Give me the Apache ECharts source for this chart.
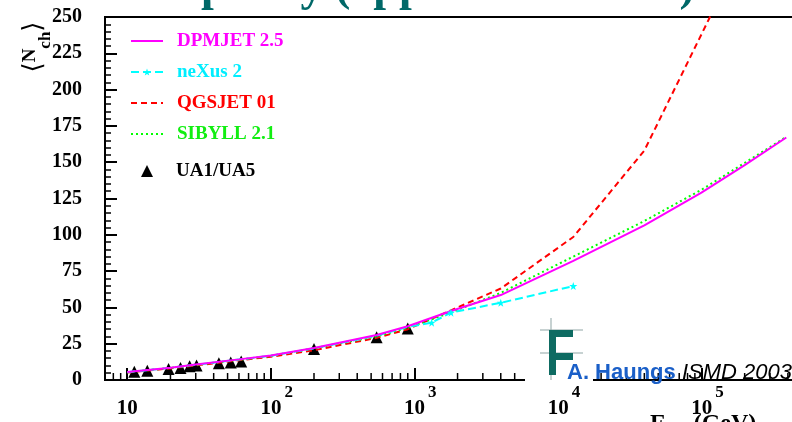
<!DOCTYPE html>
<html><head><meta charset="utf-8">
<script src="https://cdn.jsdelivr.net/npm/echarts@6/dist/echarts.min.js"></script>
<style>html,body{margin:0;padding:0;background:#fff}#c{width:792px;height:422px}</style>
</head><body><div id="c"></div>
<script>
// ---- data (E_cm in GeV, <N_ch>) ----
const uaE   = [11.2, 13.8, 19.4, 23.5, 27.2, 30.4, 43.5, 52.6, 62.2, 200, 546, 900];
const uaN   = [5.7, 6.4, 7.6, 8.3, 9.4, 10.0, 11.6, 12.0, 12.8, 21.3, 29.4, 35.4];

const dpmE  = [10, 20, 30, 60, 100, 200, 546, 900, 1800, 4000, 12800, 40000, 100000, 200000, 390000];
const dpmN  = [5.5, 8.5, 10.6, 14.2, 16.9, 22.0, 31.0, 37.0, 47.5, 58.5, 82.0, 106.5, 129.0, 148.0, 167.0];

const sibE  = [10, 20, 30, 60, 100, 200, 546, 900, 1800, 4000, 12800, 40000, 100000, 200000, 390000];
const sibN  = [5.3, 8.3, 10.4, 14.0, 16.6, 21.8, 30.0, 36.0, 46.5, 60.0, 85.0, 109.5, 131.0, 149.5, 167.5];

const qgsE  = [10, 20, 30, 60, 100, 200, 546, 900, 1800, 4000, 12800, 40000, 120000];
const qgsN  = [5.2, 8.0, 10.0, 13.6, 16.0, 20.5, 29.0, 35.0, 48.0, 63.0, 98.5, 158.0, 254.0];

const nexE  = [10, 20, 30, 60, 100, 200, 546, 900, 1320, 1800, 4000, 12800];
const nexN  = [5.4, 8.4, 10.5, 14.1, 16.7, 21.8, 30.5, 36.5, 39.5, 46.4, 53.2, 64.7];

const xMinorTicks = [8, 9, 20, 30, 40, 50, 60, 70, 80, 90, 200, 300, 400, 500, 600, 700, 800, 900,
  2000, 3000, 4000, 5000, 6000, 7000, 8000, 9000, 20000, 30000, 40000, 50000, 60000, 70000, 80000, 90000,
  200000, 300000, 400000, 500000, 600000, 700000, 800000, 900000];

const seriesNames = ['DPMJET 2.5', 'neXus 2', 'QGSJET 01', 'SIBYLL 2.1', 'UA1/UA5'];

// ---- helpers ----
const zip = (a, b) => a.map((v, i) => [v, b[i]]);
const STAR = 'path://M0,-10L2.35,-3.24L9.51,-3.09L3.8,1.24L5.88,8.09L0,4L-5.88,8.09L-3.8,1.24L-9.51,-3.09L-2.35,-3.24Z';
const SERIF = 'Liberation Serif';

const chart = echarts.init(document.getElementById('c'), null, {renderer: 'canvas'});

const option = {
  backgroundColor: '#fff',
  animation: false,
  grid: {left: 105, top: 17, bottom: 42, right: -53, show: true, borderColor: '#000', borderWidth: 2,
    backgroundColor: 'transparent', containLabel: false, outerBoundsMode: 'none'},
  xAxis: {
    type: 'log', logBase: 10, min: 7, max: 1e6,
    axisLine: {lineStyle: {color: '#000', width: 2}},
    axisTick: {inside: true, length: 12, lineStyle: {color: '#000', width: 2}},
    splitLine: {show: false},
    axisLabel: {
      margin: 17,
      formatter: function (v) {
        const e = Math.round(Math.log10(v));
        if (Math.abs(v - Math.pow(10, e)) > 1e-6 * v) return '';
        if (e === 1) return '{q|10}';
        return '{p| }{a|10}{s|' + e + '}';
      },
      rich: {
        q: {fontFamily: SERIF, fontWeight: 'bold', fontSize: 21, color: '#000', lineHeight: 22, padding: [13, 0, 0, 0], verticalAlign: 'bottom'},
        a: {fontFamily: SERIF, fontWeight: 'bold', fontSize: 21, color: '#000', lineHeight: 22, verticalAlign: 'bottom'},
        s: {fontFamily: SERIF, fontWeight: 'bold', fontSize: 17, color: '#000', lineHeight: 17, padding: [0, 0, 18, 3], verticalAlign: 'bottom'},
        p: {width: 12, fontSize: 10}
      }
    }
  },
  yAxis: {
    type: 'value', min: 0, max: 250, interval: 25,
    axisLine: {show: true, lineStyle: {color: '#000', width: 2}},
    axisTick: {inside: true, length: 12, lineStyle: {color: '#000', width: 2}},
    minorTick: {show: true, splitNumber: 5, length: 6, lineStyle: {color: '#000', width: 1.5}},
    splitLine: {show: false},
    axisLabel: {fontFamily: SERIF, fontWeight: 'bold', fontSize: 20, color: '#000', margin: 23}
  },
  legend: [{
    left: 130, top: 31, orient: 'vertical', padding: 0,
    itemWidth: 32, itemHeight: 9, itemGap: 11,
    textStyle: {fontFamily: SERIF, fontWeight: 'bold', fontSize: 19, lineHeight: 20, padding: [0, 0, 0, 9]},
    data: [
      {name: seriesNames[0], textStyle: {color: '#ff00ff'}, itemStyle: {opacity: 0}},
      {name: seriesNames[1], textStyle: {color: '#00eeff'}},
      {name: seriesNames[2], textStyle: {color: '#ff0000'}, itemStyle: {opacity: 0}},
      {name: seriesNames[3], textStyle: {color: '#11ee11'}, itemStyle: {opacity: 0}}
    ]
  }, {
    left: 141, top: 161, orient: 'vertical', padding: 0,
    itemWidth: 12, itemHeight: 12,
    textStyle: {fontFamily: SERIF, fontWeight: 'bold', fontSize: 19, lineHeight: 20, color: '#000', padding: [0, 0, 0, 18]},
    data: [{name: seriesNames[4]}]
  }],
  series: [
    {name: seriesNames[2], type: 'line', data: zip(qgsE, qgsN), symbol: 'none',
      lineStyle: {color: '#ff0000', width: 2, type: [6, 4]}, itemStyle: {color: '#ff0000'}, clip: true},
    {name: seriesNames[3], type: 'line', data: zip(sibE, sibN), symbol: 'none',
      lineStyle: {color: '#00ff00', width: 2, type: [2, 3]}, itemStyle: {color: '#00ff00'}, clip: true},
    {name: seriesNames[1], type: 'line',
      data: nexE.map((e, i) => ({value: [e, nexN[i]], symbol: e > 1000 ? STAR : 'none'})),
      symbol: STAR, symbolSize: 8, showAllSymbol: true,
      lineStyle: {color: '#00ffff', width: 2, type: [8, 4]}, itemStyle: {color: '#00ffff'}, clip: true},
    {name: seriesNames[0], type: 'line', data: zip(dpmE, dpmN), symbol: 'none',
      lineStyle: {color: '#ff00ff', width: 2}, itemStyle: {color: '#ff00ff'}, clip: true},
    {name: seriesNames[4], type: 'scatter', data: zip(uaE, uaN), symbol: 'triangle', symbolSize: 12,
      itemStyle: {color: '#000', opacity: 1}},
    {type: 'custom', silent: true, coordinateSystem: 'cartesian2d', data: xMinorTicks.map(v => [v, 0]),
      renderItem: function (params, api) {
        const p = api.coord([api.value(0), 0]);
        return {type: 'line', shape: {x1: p[0], y1: p[1], x2: p[0], y2: p[1] - 7}, style: {stroke: '#000', lineWidth: 1.5}};
      }, z: 1}
  ],
  graphic: [
    // cropped slide title
    {type: 'text', x: 91, y: -12, z: 50, silent: true,
      style: {text: 'Multiplicity (  pp  →  ch  +  X )', font: 'bold 46px "Liberation Serif"', fill: '#006868', verticalAlign: 'middle', align: 'left'}},
    // y-axis title <N_ch>
    {type: 'text', x: 34.5, y: 47, rotation: Math.PI / 2, z: 50, silent: true,
      style: {text: '{b|⟨}{n|N}{c|ch}{b|⟩}', align: 'center', verticalAlign: 'middle',
        rich: {
          b: {fontFamily: 'DejaVu Serif', fontSize: 26, lineHeight: 27, verticalAlign: 'top', fill: '#000'},
          n: {fontFamily: SERIF, fontWeight: 'bold', fontSize: 19, lineHeight: 20, verticalAlign: 'top', fill: '#000'},
          c: {fontFamily: SERIF, fontWeight: 'bold', fontSize: 17, lineHeight: 17, padding: [16, 0, 0, 0], verticalAlign: 'top', fill: '#000'}
        }}},
    // x-axis title E_cm (GeV)
    {type: 'text', x: 650, y: 412, z: 50, silent: true,
      style: {text: '{e|E}{c|cm}{e| (GeV)}', align: 'left', verticalAlign: 'top',
        rich: {
          e: {fontFamily: SERIF, fontWeight: 'bold', fontSize: 24, lineHeight: 24, verticalAlign: 'top', fill: '#000'},
          c: {fontFamily: SERIF, fontWeight: 'bold', fontSize: 17, lineHeight: 17, padding: [12, 0, 0, 0], verticalAlign: 'top', fill: '#000'}
        }}},
    // logo with white background
    {type: 'rect', z: 40, silent: true, shape: {x: 525, y: 316, width: 68, height: 68}, style: {fill: '#fff'}},
    {type: 'line', z: 41, silent: true, shape: {x1: 540, y1: 330, x2: 583, y2: 330}, style: {stroke: '#8fa5a5', lineWidth: 1}},
    {type: 'line', z: 41, silent: true, shape: {x1: 540, y1: 353, x2: 583, y2: 353}, style: {stroke: '#8fa5a5', lineWidth: 1}},
    {type: 'line', z: 41, silent: true, shape: {x1: 551, y1: 318, x2: 551, y2: 380}, style: {stroke: '#8fa5a5', lineWidth: 1}},
    {type: 'rect', z: 42, silent: true, shape: {x: 549, y: 330, width: 7, height: 45}, style: {fill: '#0e6b62'}},
    {type: 'rect', z: 42, silent: true, shape: {x: 549, y: 330, width: 24, height: 7}, style: {fill: '#0e6b62'}},
    {type: 'rect', z: 42, silent: true, shape: {x: 549, y: 353, width: 24, height: 7}, style: {fill: '#0e6b62'}},
    {type: 'text', x: 567, y: 373, z: 50, silent: true,
      style: {text: 'A. Haungs', font: 'bold 22px "Liberation Sans"', fill: '#1a5fc8', verticalAlign: 'middle', align: 'left'}},
    {type: 'text', x: 682, y: 373, z: 50, silent: true,
      style: {text: 'ISMD 2003', font: 'italic 22px "Liberation Sans"', fill: '#000', verticalAlign: 'middle', align: 'left'}}
  ]
};
chart.setOption(option);
</script>
</body></html>
